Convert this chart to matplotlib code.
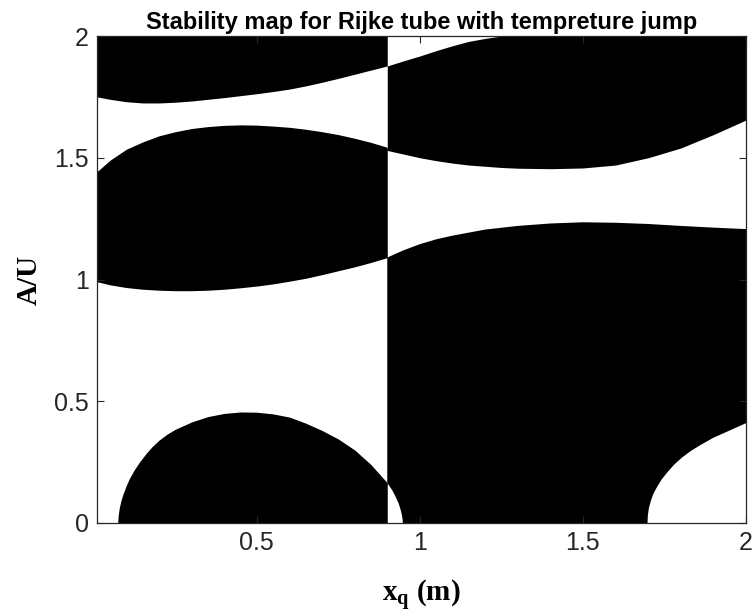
import numpy as np
import matplotlib
matplotlib.use("Agg")
import matplotlib.pyplot as plt

plt.rcParams['font.family'] = ['Liberation Sans', 'DejaVu Sans']
plt.rcParams['mathtext.fontset'] = 'custom'
plt.rcParams['mathtext.rm'] = 'Liberation Serif'
plt.rcParams['mathtext.bf'] = 'Liberation Serif:bold'

# boundaries of the unstable (black) regions
# left of the temperature jump (x < 0.9)
x_left = [0.01, 0.05, 0.1, 0.15, 0.2, 0.25, 0.3, 0.35, 0.4, 0.45, 0.5,
          0.55, 0.6, 0.65, 0.7, 0.75, 0.8, 0.85, 0.9]
top_band_low = [1.75, 1.74, 1.73, 1.725, 1.725, 1.728, 1.733, 1.74, 1.747, 1.755,
                1.763, 1.772, 1.782, 1.795, 1.81, 1.826, 1.843, 1.86, 1.877]
mid_band_high = [1.443, 1.49, 1.535, 1.565, 1.59, 1.607, 1.62, 1.628, 1.633, 1.635,
                 1.634, 1.63, 1.625, 1.617, 1.607, 1.595, 1.58, 1.563, 1.543]
mid_band_low = [0.991, 0.978, 0.967, 0.96, 0.956, 0.954, 0.954, 0.956, 0.96, 0.966,
                0.973, 0.982, 0.993, 1.005, 1.02, 1.036, 1.052, 1.07, 1.09]

x_blob = [0.0735, 0.075, 0.078, 0.083, 0.09, 0.1, 0.11, 0.125, 0.14, 0.16, 0.18,
          0.2, 0.225, 0.25, 0.3, 0.35, 0.4, 0.45, 0.5, 0.55, 0.6, 0.65, 0.7,
          0.75, 0.8, 0.85, 0.9]
blob_high = [0.0, 0.03, 0.06, 0.09, 0.12, 0.155, 0.185, 0.22, 0.25, 0.285, 0.315,
             0.34, 0.365, 0.385, 0.415, 0.437, 0.45, 0.456, 0.455, 0.448, 0.435,
             0.41, 0.38, 0.345, 0.3, 0.24, 0.165]

# right of the jump (x > 0.9)
x_top_r = [0.9, 0.95, 1.0, 1.05, 1.1, 1.15, 1.2, 1.25, 1.3, 1.4, 1.5, 1.6,
           1.7, 1.8, 1.9, 2.0]
top_r_high = [1.877, 1.898, 1.918, 1.94, 1.96, 1.978, 1.99, 2.0, 2.0, 2.0, 2.0, 2.0,
              2.0, 2.0, 2.0, 2.0]
top_r_low = [1.53, 1.515, 1.5, 1.488, 1.478, 1.47, 1.465, 1.46, 1.457, 1.455, 1.458,
             1.47, 1.5, 1.54, 1.595, 1.655]

x_low_r = [0.9, 0.95, 1.0, 1.05, 1.1, 1.2, 1.3, 1.4, 1.5, 1.6, 1.7, 1.8, 1.9, 2.0]
low_r_high = [1.09, 1.12, 1.145, 1.165, 1.18, 1.205, 1.22, 1.23, 1.235, 1.233,
              1.228, 1.22, 1.213, 1.207]
x_low_r_floor = [0.9, 0.905, 0.915, 0.925, 0.935, 0.942, 0.946, 0.948,
                 1.698, 1.699, 1.702, 1.708, 1.716, 1.728, 1.742, 1.76, 1.78,
                 1.805, 1.83, 1.86, 1.9, 1.95, 2.0]
low_r_floor = [0.165, 0.155, 0.135, 0.11, 0.08, 0.05, 0.025, 0.0,
               0.0, 0.03, 0.06, 0.09, 0.12, 0.15, 0.18, 0.21, 0.24,
               0.27, 0.295, 0.32, 0.35, 0.38, 0.41]

fig = plt.figure(figsize=(7.52, 6.16), dpi=100)
ax = fig.add_axes([97 / 752, 93 / 616, 649 / 752, 487 / 616])

kw = dict(color='black', lw=0)
ax.fill_between(x_left, top_band_low, 2.0, **kw)
ax.fill_between(x_left, mid_band_low, mid_band_high, **kw)
ax.fill_between(x_blob, 0.0, blob_high, **kw)
ax.fill_between(x_top_r, top_r_low, top_r_high, **kw)
ax.fill(np.r_[x_low_r, x_low_r_floor[::-1]], np.r_[low_r_high, low_r_floor[::-1]], **kw)

ax.set_xlim(0.01, 2)
ax.set_ylim(0, 2)
ax.set_xticks([0.5, 1, 1.5, 2])
ax.set_xticklabels(['0.5', '1', '1.5', '2'])
ax.set_yticks([0, 0.5, 1, 1.5, 2])
ax.set_yticklabels(['0', '0.5', '1', '1.5', '2'])
ax.tick_params(direction='in', top=True, right=True, length=5, width=0.8,
               color='#262626', labelcolor='#262626', labelsize=18, pad=6)
for s in ax.spines.values():
    s.set_color('#262626')
    s.set_linewidth(0.9)
    s.set_zorder(5)

ax.set_title('Stability map for Rijke tube with tempreture jump',
             fontsize=17, fontweight='bold', pad=5)
ax.set_xlabel(r'$\mathbf{x_q}$ (m)', fontsize=21, fontweight='bold',
              family='Liberation Serif', labelpad=16)
ax.set_ylabel('A/U', fontsize=21, fontweight='bold', family='Liberation Serif',
              labelpad=8)

fig.savefig('out.png', dpi=100)
